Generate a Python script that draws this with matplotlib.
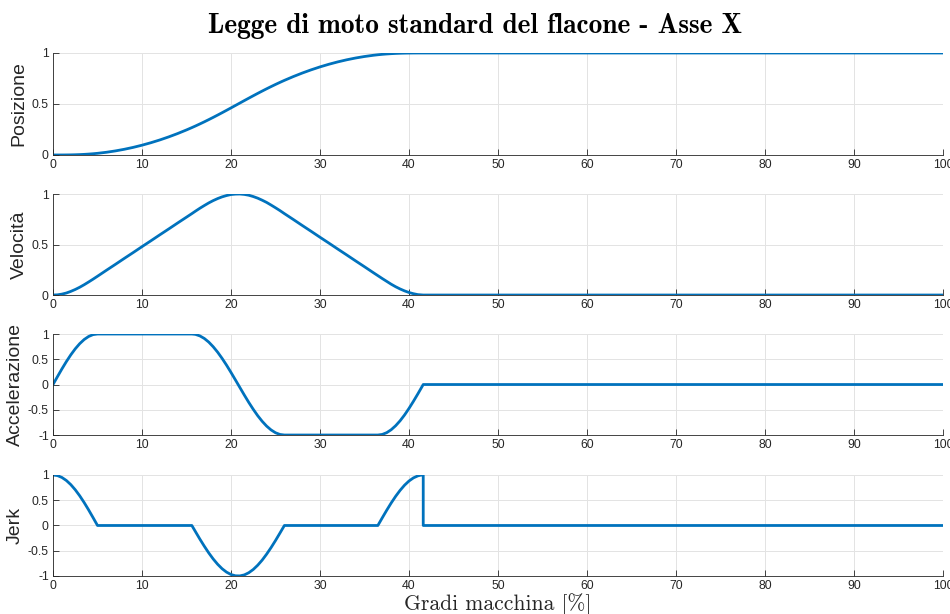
import numpy as np
import matplotlib
matplotlib.use('Agg')
import matplotlib.pyplot as plt

plt.rcParams['font.family'] = ['Liberation Sans', 'DejaVu Sans']

# ==========================================
# DATI
# ==========================================
gradi = [0, 0.5, 1, 1.5, 2, 2.5, 3, 3.5, 4, 4.5,
         5, 6, 7, 8, 9, 10, 11, 12, 13, 14, 15,
         15.6,
         16, 16.5, 17, 17.5, 18, 18.5, 19, 19.5, 20, 20.5,
         21, 21.5, 22, 22.5, 23, 23.5, 24, 24.5, 25, 25.5,
         26, 27, 28, 29, 30, 31, 32, 33, 34, 35, 36,
         36.5, 37, 37.5, 38, 38.5, 39, 39.5, 40, 40.5, 41,
         41.3, 41.6, 41.6, 100]

posizione = [0.0, 0.0, 0.0001, 0.0005, 0.0011, 0.0022, 0.0038, 0.0059, 0.0087, 0.0121,
             0.0162, 0.0265, 0.0397, 0.0556, 0.0743, 0.0959, 0.1202, 0.1473, 0.1773, 0.2100, 0.2456,
             0.2683,
             0.2839, 0.3042, 0.3250, 0.3466, 0.3687, 0.3913, 0.4144, 0.4379, 0.4616, 0.4855,
             0.5094, 0.5334, 0.5571, 0.5806, 0.6038, 0.6265, 0.6488, 0.6704, 0.6915, 0.7118,
             0.7315, 0.7687, 0.8031, 0.8347, 0.8636, 0.8896, 0.9128, 0.9332, 0.9508, 0.9656, 0.9776,
             0.9826, 0.9869, 0.9904, 0.9933, 0.9956, 0.9973, 0.9985, 0.9992, 0.9997, 0.9999,
             1.0, 1.0, 1.0, 1.0]

velocita = [0.0, 0.002, 0.009, 0.020, 0.036, 0.055, 0.077, 0.102, 0.129, 0.157,
            0.186, 0.245, 0.303, 0.362, 0.420, 0.479, 0.537, 0.596, 0.654, 0.713, 0.771,
            0.806,
            0.830, 0.859, 0.886, 0.912, 0.935, 0.955, 0.972, 0.985, 0.995, 0.999,
            1.000, 0.996, 0.988, 0.975, 0.959, 0.939, 0.917, 0.891, 0.864, 0.836,
            0.806, 0.748, 0.689, 0.631, 0.572, 0.514, 0.455, 0.397, 0.338, 0.280, 0.221,
            0.192, 0.163, 0.135, 0.107, 0.082, 0.060, 0.041, 0.025, 0.013, 0.004,
            0.002, 0.0, 0.0, 0.0]

accelerazione = [0.0, 0.156, 0.309, 0.454, 0.588, 0.707, 0.809, 0.891, 0.951, 0.988,
                 1.0, 1.0, 1.0, 1.0, 1.0, 1.0, 1.0, 1.0, 1.0, 1.0, 1.0,
                 1.0,
                 0.993, 0.963, 0.912, 0.840, 0.748, 0.640, 0.517, 0.383, 0.239, 0.090,
                 -0.060, -0.210, -0.355, -0.491, -0.617, -0.728, -0.823, -0.899, -0.955, -0.989,
                 -1.0, -1.0, -1.0, -1.0, -1.0, -1.0, -1.0, -1.0, -1.0, -1.0, -1.0,
                 -1.0, -0.988, -0.953, -0.895, -0.816, -0.718, -0.603, -0.473, -0.332, -0.184,
                 -0.092, 0.0, 0.0, 0.0]

jerk = [1.0, 0.988, 0.951, 0.891, 0.809, 0.707, 0.588, 0.454, 0.309, 0.156,
        0.0, 0.0, 0.0, 0.0, 0.0, 0.0, 0.0, 0.0, 0.0, 0.0, 0.0,
        0.0,
        -0.120, -0.269, -0.410, -0.543, -0.663, -0.768, -0.856, -0.924, -0.971, -0.996,
        -0.998, -0.978, -0.935, -0.871, -0.787, -0.686, -0.568, -0.438, -0.298, -0.150,
        0.0, 0.0, 0.0, 0.0, 0.0, 0.0, 0.0, 0.0, 0.0, 0.0, 0.0,
        0.0, 0.153, 0.303, 0.446, 0.578, 0.696, 0.798, 0.881, 0.943, 0.983,
        0.996, 1.0, 0.0, 0.0]

etichette = ['Posizione', 'Velocità', 'Accelerazione', 'Jerk']
serie = [posizione, velocita, accelerazione, jerk]

# ==========================================
# GRAFICO
# ==========================================
fig = plt.figure(figsize=(9.5, 6.14), dpi=100)

bottoms = [0.7476, 0.5195, 0.2915, 0.0619]
heights = [0.1661, 0.1645, 0.1645, 0.1645]

for i in range(4):
    ax = fig.add_axes([0.0558, bottoms[i], 0.9368, heights[i]])
    ax.plot(gradi, serie[i], color='#0072BD', linewidth=2.0)
    ax.set_xlim(0, 100)
    ax.set_xticks(np.arange(0, 101, 10))
    if i < 2:
        ax.set_ylim(0, 1)
        ax.set_yticks([0, 0.5, 1])
        ax.set_yticklabels(['0', '0.5', '1'])
    else:
        ax.set_ylim(-1, 1)
        ax.set_yticks([-1, -0.5, 0, 0.5, 1])
        ax.set_yticklabels(['-1', '-0.5', '0', '0.5', '1'])
    ax.set_ylabel(etichette[i], fontsize=14, color='#262626', labelpad=3)
    ax.grid(True, color='#e3e3e3', linewidth=0.7)
    ax.set_axisbelow(True)
    for s in ['top', 'right']:
        ax.spines[s].set_visible(False)
    for s in ['left', 'bottom']:
        ax.spines[s].set_color('#262626')
        ax.spines[s].set_linewidth(0.6)
    ax.tick_params(direction='in', length=4, width=0.6, colors='#262626',
                   labelsize=8.8, pad=3)

fig.text(0.5, 0.946, 'Legge di moto standard del flacone - Asse X',
         ha='center', va='baseline', fontfamily='cmb10', fontsize=19.7)
fig.text(0.5237, 0.0065, 'Gradi macchina [%]', ha='center', va='baseline',
         fontfamily='cmr10', fontsize=15.5, color='#262626')

plt.savefig('out.png', dpi=100)
